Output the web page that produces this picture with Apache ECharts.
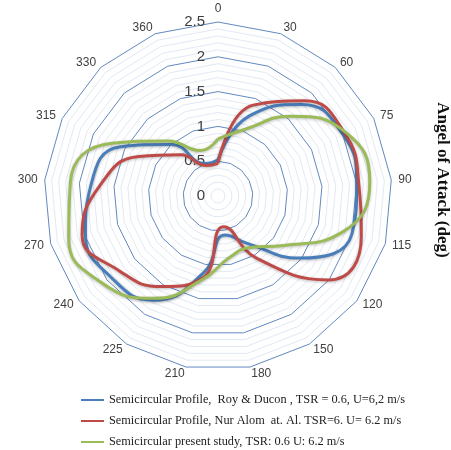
<!DOCTYPE html>
<html>
<head>
<meta charset="utf-8">
<script src="https://cdn.jsdelivr.net/npm/echarts@6/dist/echarts.min.js"></script>
<style>html,body{margin:0;padding:0;background:#fff;}#c{width:451px;height:450px;}</style>
</head>
<body>
<div id="c"></div>
<script>
const categories = ['0','30','60','75','90','115','120','150','180','210','225','240','270','300','315','330','360'];
const radialTicks = [0, 0.5, 1, 1.5, 2, 2.5];
const seriesNames = [
  'Semicircular Profile,  Roy & Ducon , TSR = 0.6, U=6,2 m/s',
  'Semicircular Profile, Nur Alom  at. Al. TSR=6. U= 6.2 m/s',
  'Semicircular present study, TSR: 0.6 U: 6.2 m/s'
];
const royDucon = [0.52, 1.23, 1.78, 2.0, 2.0, 2.0, 1.48, 0.8, 0.57, 1.12, 1.76, 1.93, 1.98, 1.83, 1.58, 1.0, 0.5];
const nurAlom  = [0.47, 1.4, 1.85, 2.03, 2.03, 2.14, 2.0, 1.05, 0.45, 1.2, 1.53, 1.78, 2.03, 1.7, 1.27, 0.8, 0.47];
const present  = [0.82, 1.02, 1.55, 2.05, 2.19, 1.87, 1.18, 0.87, 0.9, 1.22, 1.73, 2.08, 2.23, 2.13, 1.7, 1.07, 0.7];
const colors = ['#4a7ebb', '#be4b48', '#9bbb59'];
const yAxisTitle = 'Angel of Attack (deg)';

const rMax = radialTicks[radialTicks.length - 1];
const n = categories.length;
const center = [218, 196];
const radius = 174;

// radar draws counter-clockwise; reorder so categories run clockwise
const radarOrder = [0].concat(categories.map((_, i) => i).slice(1).reverse());
const indicators = radarOrder.map(i => ({ name: categories[i], min: 0, max: rMax }));

function loop(vals) {
  const d = vals.map((v, i) => [v, i]);
  d.push([vals[0], n]);
  return d;
}
const minorColor = '#e1e9f4';
const majorColor = '#6189c1';

const chart = echarts.init(document.getElementById('c'), null, { renderer: 'canvas' });
chart.setOption({
  animation: false,
  backgroundColor: '#fff',
  radar: {
    center: center,
    radius: radius,
    startAngle: 90,
    shape: 'polygon',
    splitNumber: 25,
    indicator: indicators,
    nameGap: 7,
    axisName: { color: '#404040', fontSize: 12, fontFamily: 'Liberation Sans, Arial, sans-serif' },
    axisLine: { show: false },
    axisTick: { show: false },
    axisLabel: { show: false },
    splitArea: { show: false },
    splitLine: { lineStyle: { width: 1, color: [majorColor, minorColor, minorColor, minorColor, minorColor] } }
  },
  polar: { center: center, radius: radius },
  angleAxis: { type: 'value', min: 0, max: n, startAngle: 90, clockwise: true, show: false },
  radiusAxis: {
    type: 'value', min: 0, max: rMax, interval: 0.5,
    axisLine: { show: false }, axisTick: { show: false }, splitLine: { show: false },
    axisLabel: { show: true, color: '#404040', fontSize: 15, fontFamily: 'Liberation Sans, Arial, sans-serif', margin: 13 }
  },
  legend: {
    orient: 'vertical', left: 81, top: 394, itemGap: 9, padding: 0,
    itemWidth: 23, itemHeight: 2, icon: 'rect',
    textStyle: { fontFamily: 'Liberation Serif, Times New Roman, serif', fontSize: 12.3, color: '#222' },
    data: seriesNames
  },
  graphic: [{
    type: 'text', x: 442, y: 180, rotation: -Math.PI / 2,
    style: { text: yAxisTitle, fill: '#111', font: 'bold 17px "Liberation Serif", serif', align: 'center', verticalAlign: 'middle' }
  }],
  series: [royDucon, nurAlom, present].map((vals, k) => ({
    name: seriesNames[k], type: 'line', coordinateSystem: 'polar',
    data: loop(vals), smooth: 0.5, symbol: 'none',
    lineStyle: { color: colors[k], width: 3, shadowColor: 'rgba(0,0,0,0.25)', shadowBlur: 3, shadowOffsetY: 1 },
    itemStyle: { color: colors[k] }, z: 3
  }))
});
</script>
</body>
</html>
